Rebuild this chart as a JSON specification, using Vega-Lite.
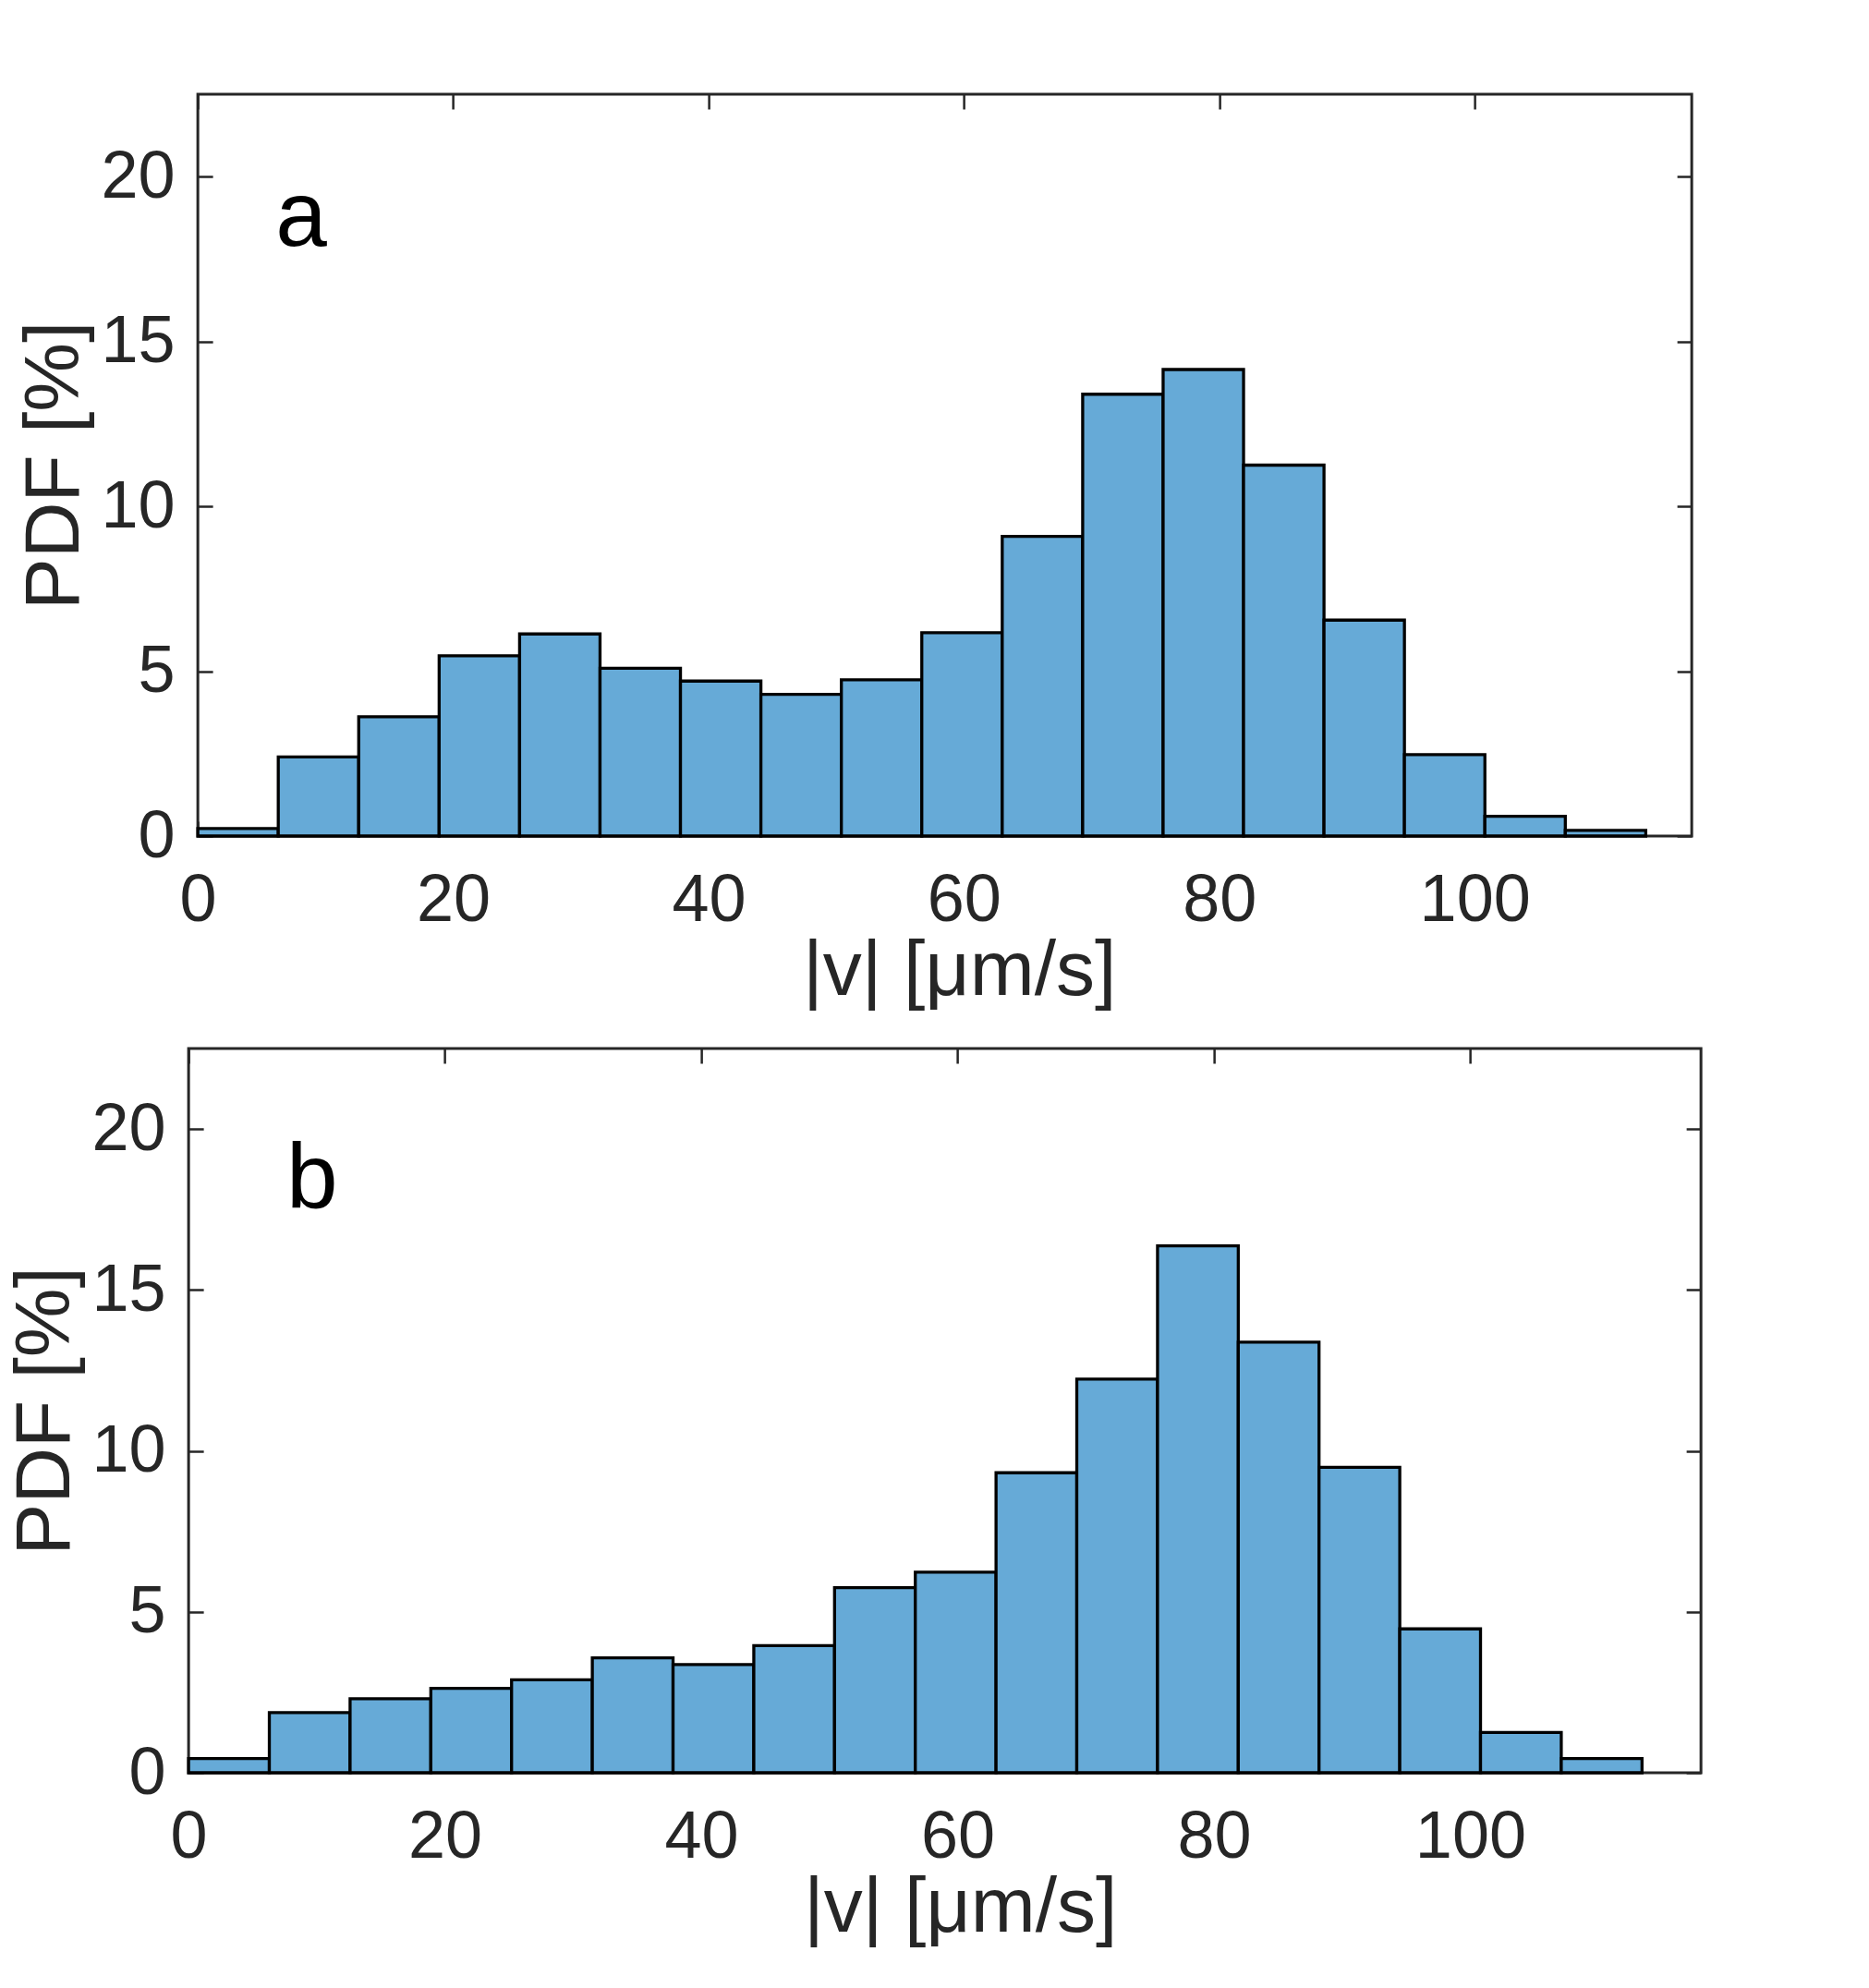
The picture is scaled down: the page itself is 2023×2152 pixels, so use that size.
{
  "$schema": "https://vega.github.io/schema/vega-lite/v6.json",
  "background": "white",
  "autosize": {"type": "pad"},
  "padding": {"top": 99, "left": 5, "right": 0, "bottom": 0},
  "datasets": {
    "hist": [
      {"panel": "a", "x0": 0.0, "x1": 6.3, "pdf": 0.23},
      {"panel": "a", "x0": 6.3, "x1": 12.6, "pdf": 2.4},
      {"panel": "a", "x0": 12.6, "x1": 18.9, "pdf": 3.62},
      {"panel": "a", "x0": 18.9, "x1": 25.2, "pdf": 5.47},
      {"panel": "a", "x0": 25.2, "x1": 31.5, "pdf": 6.13},
      {"panel": "a", "x0": 31.5, "x1": 37.8, "pdf": 5.09},
      {"panel": "a", "x0": 37.8, "x1": 44.1, "pdf": 4.7},
      {"panel": "a", "x0": 44.1, "x1": 50.4, "pdf": 4.3},
      {"panel": "a", "x0": 50.4, "x1": 56.7, "pdf": 4.74},
      {"panel": "a", "x0": 56.7, "x1": 63.0, "pdf": 6.17},
      {"panel": "a", "x0": 63.0, "x1": 69.3, "pdf": 9.09},
      {"panel": "a", "x0": 69.3, "x1": 75.6, "pdf": 13.4},
      {"panel": "a", "x0": 75.6, "x1": 81.9, "pdf": 14.15},
      {"panel": "a", "x0": 81.9, "x1": 88.2, "pdf": 11.25},
      {"panel": "a", "x0": 88.2, "x1": 94.5, "pdf": 6.55},
      {"panel": "a", "x0": 94.5, "x1": 100.8, "pdf": 2.47},
      {"panel": "a", "x0": 100.8, "x1": 107.1, "pdf": 0.6},
      {"panel": "a", "x0": 107.1, "x1": 113.4, "pdf": 0.17},
      {"panel": "b", "x0": 0.0, "x1": 6.3, "pdf": 0.44},
      {"panel": "b", "x0": 6.3, "x1": 12.6, "pdf": 1.87},
      {"panel": "b", "x0": 12.6, "x1": 18.9, "pdf": 2.3},
      {"panel": "b", "x0": 18.9, "x1": 25.2, "pdf": 2.62},
      {"panel": "b", "x0": 25.2, "x1": 31.5, "pdf": 2.89},
      {"panel": "b", "x0": 31.5, "x1": 37.8, "pdf": 3.57},
      {"panel": "b", "x0": 37.8, "x1": 44.1, "pdf": 3.36},
      {"panel": "b", "x0": 44.1, "x1": 50.4, "pdf": 3.95},
      {"panel": "b", "x0": 50.4, "x1": 56.7, "pdf": 5.75},
      {"panel": "b", "x0": 56.7, "x1": 63.0, "pdf": 6.23},
      {"panel": "b", "x0": 63.0, "x1": 69.3, "pdf": 9.32},
      {"panel": "b", "x0": 69.3, "x1": 75.6, "pdf": 12.23},
      {"panel": "b", "x0": 75.6, "x1": 81.9, "pdf": 16.37},
      {"panel": "b", "x0": 81.9, "x1": 88.2, "pdf": 13.38},
      {"panel": "b", "x0": 88.2, "x1": 94.5, "pdf": 9.49},
      {"panel": "b", "x0": 94.5, "x1": 100.8, "pdf": 4.47},
      {"panel": "b", "x0": 100.8, "x1": 107.1, "pdf": 1.25},
      {"panel": "b", "x0": 107.1, "x1": 113.4, "pdf": 0.44}
    ]
  },
  "spacing": 37,
  "center": true,
  "vconcat": [
    {
      "width": 1617,
      "height": 803,
      "layer": [
        {
          "data": {"name": "hist"},
          "transform": [{"filter": "datum.panel == 'a'"}],
          "mark": {"type": "bar", "fill": "#66AAD7", "stroke": "black", "strokeWidth": 3.3},
          "encoding": {
            "x": {
              "field": "x0", "type": "quantitative",
              "scale": {"domain": [0, 117], "nice": false, "zero": false},
              "axis": {"orient": "bottom", "values": [0, 20, 40, 60, 80, 100], "title": "|v| [μm/s]", "titleX": 824}
            },
            "x2": {"field": "x1"},
            "y": {
              "field": "pdf", "type": "quantitative",
              "scale": {"domain": [0, 22.5], "nice": false},
              "axis": {"orient": "left", "values": [0, 5, 10, 15, 20], "title": "PDF [%]"}
            },
            "y2": {"datum": 0}
          }
        },
        {
          "data": {"values": [{"vx": 6.08, "vy": 17.9, "label": "a"}]},
          "mark": {"type": "text", "align": "left", "baseline": "alphabetic", "fontSize": 100, "font": "Liberation Sans", "color": "black"},
          "encoding": {
            "x": {"field": "vx", "type": "quantitative", "axis": {"orient": "top", "values": [0, 20, 40, 60, 80, 100], "labels": false, "title": null}},
            "y": {"field": "vy", "type": "quantitative", "axis": {"orient": "right", "values": [0, 5, 10, 15, 20], "labels": false, "title": null}},
            "text": {"field": "label"}
          }
        }
      ],
      "resolve": {"axis": {"x": "independent", "y": "independent"}}
    },
    {
      "width": 1637,
      "height": 784,
      "layer": [
        {
          "data": {"name": "hist"},
          "transform": [{"filter": "datum.panel == 'b'"}],
          "mark": {"type": "bar", "fill": "#66AAD7", "stroke": "black", "strokeWidth": 3.3},
          "encoding": {
            "x": {
              "field": "x0", "type": "quantitative",
              "scale": {"domain": [0, 118], "nice": false, "zero": false},
              "axis": {"orient": "bottom", "values": [0, 20, 40, 60, 80, 100], "title": "|v| [μm/s]", "titleX": 835}
            },
            "x2": {"field": "x1"},
            "y": {
              "field": "pdf", "type": "quantitative",
              "scale": {"domain": [0, 22.5], "nice": false},
              "axis": {"orient": "left", "values": [0, 5, 10, 15, 20], "title": "PDF [%]"}
            },
            "y2": {"datum": 0}
          }
        },
        {
          "data": {"values": [{"vx": 7.64, "vy": 17.54, "label": "b"}]},
          "mark": {"type": "text", "align": "left", "baseline": "alphabetic", "fontSize": 100, "font": "Liberation Sans", "color": "black"},
          "encoding": {
            "x": {"field": "vx", "type": "quantitative", "axis": {"orient": "top", "values": [0, 20, 40, 60, 80, 100], "labels": false, "title": null}},
            "y": {"field": "vy", "type": "quantitative", "axis": {"orient": "right", "values": [0, 5, 10, 15, 20], "labels": false, "title": null}},
            "text": {"field": "label"}
          }
        }
      ],
      "resolve": {"axis": {"x": "independent", "y": "independent"}}
    }
  ],
  "config": {
    "view": {"stroke": "#262626", "strokeWidth": 3},
    "axis": {
      "domain": false,
      "grid": false,
      "ticks": true,
      "tickColor": "#262626",
      "tickWidth": 2.5,
      "tickSize": -16,
      "labelFlush": false,
      "labelOverlap": false,
      "labelFont": "Liberation Sans",
      "labelFontSize": 72,
      "labelColor": "#262626",
      "titleFont": "Liberation Sans",
      "titleFontSize": 84,
      "titleFontWeight": "normal",
      "titleColor": "#262626"
    },
    "axisX": {"labelPadding": 50, "titlePadding": 0},
    "axisY": {"labelPadding": 41, "titlePadding": 7}
  }
}
